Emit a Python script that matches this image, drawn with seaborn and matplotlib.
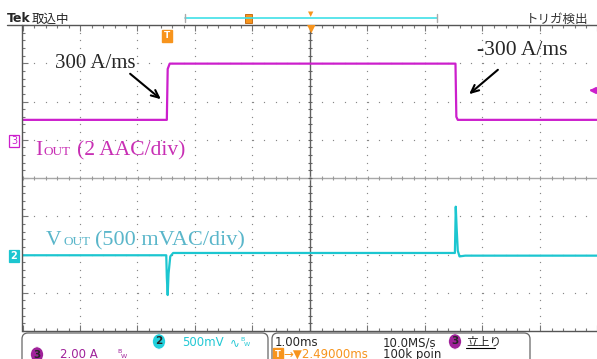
import numpy as np
import pandas as pd
import seaborn as sns
import matplotlib.pyplot as plt
from matplotlib.lines import Line2D
from matplotlib.patches import FancyBboxPatch, Rectangle
from matplotlib.transforms import IdentityTransform

# scope screen in divisions: 10 x 8 div, 1 ms/div, centre = 0
iout_t = [-5.0, -2.49, -2.475, -2.44, 2.53, 2.545, 2.57, 5.0]
iout_div = [1.52, 1.52, 2.85, 2.99, 2.99, 1.60, 1.52, 1.52]

vout_t = [-5.0, -2.50, -2.49, -2.475, -2.46, -2.43, -2.38,
          2.52, 2.535, 2.55, 2.57, 2.60, 2.70, 5.0]
vout_div = [-2.02, -2.02, -2.6, -3.06, -2.5, -2.05, -1.96,
            -1.96, -0.75, -1.3, -1.9, -2.05, -2.03, -2.03]

trig_level = 2.31

MAG = '#cc1fcc'
MAG_TXT = '#c82fb4'
CYAN = '#1cc6d0'
CYAN_TXT = '#5ab6ca'
ORANGE = '#f7941d'
PURPLE = '#a0229a'

sns.set_style('white')
plt.rcParams['font.family'] = ['DejaVu Sans', 'Noto Sans CJK JP']

W, H = 597, 359
fig = plt.figure(figsize=(W / 100, H / 100), dpi=100)
ax = fig.add_axes([22.5 / W, (H - 331) / H, 575 / W, 306 / H])
ax.set_xlim(-5, 5)
ax.set_ylim(-4, 4)

# graticule: dotted grid + solid centre cross
for k in range(-4, 5):
    if k == 0:
        continue
    ys = np.arange(-4, 4.01, 0.2)
    ax.plot(np.full_like(ys, k), ys, ls='none', marker='s', ms=0.85, color='#888888', mew=0)
for k in range(-3, 4):
    if k == 0:
        continue
    xs = np.arange(-5, 5.01, 0.2)
    ax.plot(xs, np.full_like(xs, k), ls='none', marker='s', ms=0.85, color='#888888', mew=0)
ax.axhline(0, color='#a8a8a8', lw=1.0)
ax.axvline(0, color='#606060', lw=1.0)
mx = np.arange(-5, 5.01, 0.2)
my = np.arange(-4, 4.01, 0.2)
ax.plot(mx, np.zeros_like(mx), ls='none', marker='|', ms=3.5, color='#999999', mew=0.8)
ax.plot(np.zeros_like(my), my, ls='none', marker='_', ms=3.5, color='#606060', mew=0.8)

ax.set_xticks(range(-5, 6))
ax.set_xticks(np.arange(-5, 5.01, 0.2), minor=True)
ax.set_yticks(range(-4, 5))
ax.set_yticks(np.arange(-4, 4.01, 0.2), minor=True)
ax.tick_params(which='both', direction='in', top=True, bottom=True, left=True, right=False,
               labelbottom=False, labelleft=False, color='#777777', width=0.8)
ax.tick_params(which='major', length=4)
ax.tick_params(which='minor', length=2.5)
for s in ['top', 'left', 'bottom']:
    ax.spines[s].set_color('#555555')
    ax.spines[s].set_linewidth(1)
ax.spines['right'].set_visible(False)

# traces
sns.lineplot(x=iout_t, y=iout_div, ax=ax, color=MAG, lw=1.6, estimator=None, sort=False)
sns.lineplot(x=vout_t, y=vout_div, ax=ax, color=CYAN, lw=1.6, estimator=None, sort=False)
ax.plot([4.93], [trig_level], marker='<', ms=5, color=MAG, clip_on=False)
ax.plot([4.88, 5.0], [trig_level, trig_level], color=MAG, lw=1.2)


def ft(x, y, s, **kw):
    return fig.text(x / W, (H - y) / H, s, **kw)


def fline(x0, x1, y0, y1, **kw):
    fig.add_artist(Line2D([x0 / W, x1 / W], [(H - y0) / H, (H - y1) / H], **kw))


def arrow(x0, y0, x1, y1):
    ax.annotate('', xy=(x1, H - y1), xytext=(x0, H - y0), xycoords='figure pixels',
                textcoords='figure pixels',
                arrowprops=dict(arrowstyle='->,head_length=0.55,head_width=0.25',
                                color='black', lw=1.5))


serif = 'Liberation Serif'
ft(55, 68, '300 A/ms', family=serif, size=15, va='baseline')
ft(477, 55, '-300 A/ms', family=serif, size=15.5, va='baseline')
arrow(128, 72, 163, 101)
arrow(500, 68, 467, 96)

ft(35, 155, 'I', family=serif, size=15.5, va='baseline', color=MAG_TXT)
ft(43, 155, 'OUT', family=serif, size=9.5, va='baseline', color=MAG_TXT)
ft(77, 155, '(2 AAC/div)', family=serif, size=15.5, va='baseline', color=MAG_TXT)
ft(46, 245, 'V', family=serif, size=15.5, va='baseline', color=CYAN_TXT)
ft(63, 245, 'OUT', family=serif, size=9.5, va='baseline', color=CYAN_TXT)
ft(95, 245, '(500 mVAC/div)', family=serif, size=16, va='baseline', color=CYAN_TXT)

# channel markers
ft(14, 141, '3', size=7, ha='center', va='center', color=MAG,
   bbox=dict(boxstyle='square,pad=0.15', fc='white', ec=MAG, lw=0.9))
ft(14, 256, '2', size=7, ha='center', va='center', color='white', weight='bold',
   bbox=dict(boxstyle='square,pad=0.15', fc=CYAN, ec=CYAN, lw=0.9))

# top status line
fline(7, 22.5, 25, 25, color='#555555', lw=1)
ft(7, 22.5, 'Tek', size=9, weight='bold', va='baseline')
ft(32, 22.5, '取込中', size=9, va='baseline', family=['Noto Sans CJK JP'])
ft(588, 22.5, 'トリガ検出', size=9, va='baseline', ha='right', family=['Noto Sans CJK JP'],
   color='#333333')
fline(185, 437, 18, 18, color='#3fe0e8', lw=1.2)
fline(185, 185, 14, 22, color='#aaaaaa', lw=1)
fline(437, 437, 14, 22, color='#aaaaaa', lw=1)
fig.add_artist(Rectangle((245, H - 23), 7, 9, transform=IdentityTransform(), fc=ORANGE, ec='#c06000', lw=0.6))
ft(311, 14, '▼', size=5, ha='center', va='center', color=ORANGE)
ft(311, 29, '▼', size=8, ha='center', va='center', color=ORANGE)
ft(167, 36, 'T', size=6.5, ha='center', va='center', color='white', weight='bold',
   bbox=dict(boxstyle='square,pad=0.2', fc=ORANGE, ec=ORANGE))

# bottom readout boxes
for x0, x1 in [(22, 268), (272, 530)]:
    fig.add_artist(FancyBboxPatch((x0, -10), x1 - x0, H - 333 + 10, transform=IdentityTransform(),
                                  boxstyle='round,pad=0,rounding_size=6', fc='white',
                                  ec='#666666', lw=0.9))

ft(159, 341.5, '2', size=7.5, ha='center', va='center', weight='bold',
   bbox=dict(boxstyle='round,pad=0.25,rounding_size=0.8', fc='#22d0dc', ec='none'))
ft(182, 346, '500mV', size=8.5, va='baseline', color='#22c8d4')
ft(230, 346, '∿', size=8.5, va='baseline', color='#22c8d4')
ft(240, 341, 'B', size=4.5, va='baseline', color='#22c8d4')
ft(244, 346, 'W', size=4.5, va='baseline', color='#22c8d4')

ft(37, 354.5, '3', size=7.5, ha='center', va='center', weight='bold',
   bbox=dict(boxstyle='round,pad=0.25,rounding_size=0.8', fc=PURPLE, ec='none'))
ft(60, 358, '2.00 A', size=8.5, va='baseline', color=PURPLE)
ft(117, 353, 'B', size=4.5, va='baseline', color=PURPLE)
ft(121, 358, 'W', size=4.5, va='baseline', color=PURPLE)

ft(275, 346, '1.00ms', size=8.5, va='baseline')
ft(383, 346, '10.0MS/s', size=8.5, va='baseline')
ft(455, 341.5, '3', size=7.5, ha='center', va='center', weight='bold',
   bbox=dict(boxstyle='round,pad=0.25,rounding_size=0.8', fc=PURPLE, ec='none'))
ft(466, 346, '立上り', size=8.5, va='baseline', family=['Noto Sans CJK JP'])
fline(466, 495, 347.5, 347.5, color='black', lw=0.8)
ft(278, 354.5, 'T', size=6, ha='center', va='center', color='white', weight='bold',
   bbox=dict(boxstyle='square,pad=0.2', fc=ORANGE, ec=ORANGE))
ft(283, 358, '→▼2.49000ms', size=8.5, va='baseline', color=ORANGE)
ft(383, 358, '100k poin', size=8.5, va='baseline')

fig.savefig('out.png', dpi=100)
